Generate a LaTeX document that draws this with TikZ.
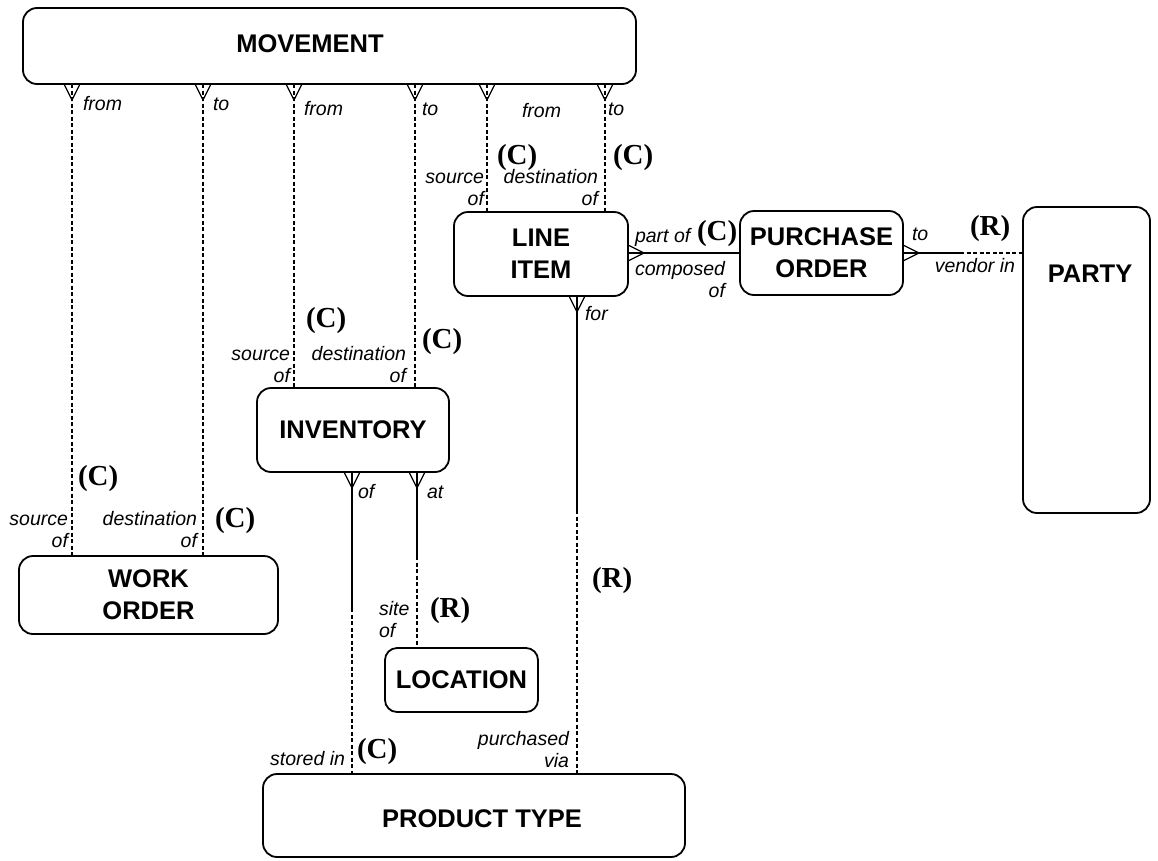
\documentclass[tikz,border=0pt]{standalone}
\usepackage{fontspec}
\setmainfont{Liberation Sans}
\newfontfamily\cardfont{Liberation Serif}

% crow's foot on the lower edge of an entity (opening upwards onto the box)
\newcommand\crowdown[1]{\draw[crow] (#1) ++(-8,0) -- ++(8,16) -- ++(8,-16);}
% crow's foot on the right edge of an entity
\newcommand\crowright[1]{\draw[crow] (#1) ++(0,-8) -- ++(16,8) -- ++(-16,8);}

\begin{document}
\begin{tikzpicture}[x=1pt,y=-1pt,
  ent/.style={draw,line width=1.8pt,rounded corners=14pt,inner sep=0pt,outer sep=0pt,
              align=center,font=\fontsize{25.5}{32}\selectfont\bfseries},
  entname/.style={inner sep=0pt,outer sep=0pt,font=\fontsize{25.5}{32}\selectfont\bfseries},
  lbl/.style={inner sep=0pt,outer sep=0pt,font=\fontsize{19.5}{22}\selectfont\itshape},
  card/.style={inner sep=0pt,outer sep=0pt,font=\fontsize{29}{29}\selectfont\cardfont\bfseries},
  rel/.style={line width=1.3pt},
  opt/.style={line width=1.3pt,dash pattern=on 4pt off 2.5pt},
  crow/.style={line width=1.3pt,line join=miter}]

\useasboundingbox (0,0) rectangle (1158,860);

% ---------- entities ----------
\node[ent,minimum width=613pt,minimum height=76pt] (mv) at (329.5,46) {};
\node[entname,anchor=base] (mvname) at (310,52) {MOVEMENT};
\node[ent,minimum width=174pt,minimum height=84pt] (li) at (541,254) {LINE\\ITEM};
\node[ent,minimum width=163pt,minimum height=84pt] (po) at (821.5,253) {PURCHASE\\ORDER};
\node[ent,minimum width=127pt,minimum height=306pt] (pa) at (1086.5,360) {};
\node[entname,anchor=base] (paname) at (1090,282) {PARTY};
\node[ent,minimum width=192pt,minimum height=84pt] (inv) at (353,430) {INVENTORY};
\node[ent,minimum width=259pt,minimum height=78pt] (wo) at (148.5,595) {WORK\\ORDER};
\node[ent,minimum width=153pt,minimum height=64pt,rounded corners=12pt] (lo) at (461.5,680) {LOCATION};
\node[ent,minimum width=422pt,minimum height=83pt] (pt) at (474,815.5) {};
\node[entname,anchor=base] (ptname) at (482,827) {PRODUCT TYPE};

% ---------- relationship columns / rows ----------
\coordinate (c1) at (72,0);
\coordinate (c2) at (203,0);
\coordinate (c3) at (294,0);
\coordinate (c4) at (415,0);
\coordinate (c5) at (487,0);
\coordinate (c6) at (605,0);
\coordinate (c7) at (577,0);
\coordinate (c8) at (352,0);
\coordinate (c9) at (417,0);
\coordinate (r1) at (0,253);
% points where a line changes from solid to dashed
\coordinate (s7) at (577,510);
\coordinate (s8) at (352,608);
\coordinate (s9) at (417,556);
\coordinate (s10) at (960,253);

% ---------- relationships ----------
\draw[opt] (mv.south -| c1) -- (wo.north -| c1);
\draw[opt] (mv.south -| c2) -- (wo.north -| c2);
\draw[opt] (mv.south -| c3) -- (inv.north -| c3);
\draw[opt] (mv.south -| c4) -- (inv.north -| c4);
\draw[opt] (mv.south -| c5) -- (li.north -| c5);
\draw[opt] (mv.south -| c6) -- (li.north -| c6);
\crowdown{mv.south -| c1}
\crowdown{mv.south -| c2}
\crowdown{mv.south -| c3}
\crowdown{mv.south -| c4}
\crowdown{mv.south -| c5}
\crowdown{mv.south -| c6}

\draw[rel] (li.south -| c7) -- (s7);
\draw[opt] (s7) -- (pt.north -| c7);
\crowdown{li.south -| c7}

\draw[rel] (inv.south -| c8) -- (s8);
\draw[opt] (s8) -- (pt.north -| c8);
\crowdown{inv.south -| c8}

\draw[rel] (inv.south -| c9) -- (s9);
\draw[opt] (s9) -- (lo.north -| c9);
\crowdown{inv.south -| c9}

\draw[rel] (li.east |- r1) -- (po.west |- r1);
\crowright{li.east |- r1}

\draw[rel] (po.east |- r1) -- (s10);
\draw[opt] (s10) -- (pa.west |- r1);
\crowright{po.east |- r1}

% ---------- role names (two-line names sit on the baseline of their last line) ----------
\node[lbl,anchor=base west] (t1) at (83,110) {from};
\node[lbl,anchor=base west] (t2) at (213,110) {to};
\node[lbl,anchor=base west] (t3) at (304,115) {from};
\node[lbl,anchor=base west] (t4) at (422,115) {to};
\node[lbl,anchor=base west] (t5) at (522,117) {from};
\node[lbl,anchor=base west] (t6) at (608,115) {to};

\node[lbl,anchor=base east,align=right] (b5) at (484,205) {source\\of};
\node[lbl,anchor=base east,align=right] (b6) at (598,205) {destination\\of};
\node[lbl,anchor=base east,align=right] (b3) at (290,382) {source\\of};
\node[lbl,anchor=base east,align=right] (b4) at (406,382) {destination\\of};
\node[lbl,anchor=base east,align=right] (b1) at (68,547) {source\\of};
\node[lbl,anchor=base east,align=right] (b2) at (197,547) {destination\\of};

\node[lbl,anchor=base west] (t7) at (585,320) {for};
\node[lbl,anchor=base east,align=right] (b7) at (569,767) {purchased\\via};
\node[lbl,anchor=base west] (t8) at (358,498) {of};
\node[lbl,anchor=base east] (b8) at (345,765) {stored in};
\node[lbl,anchor=base west] (t9) at (427,498) {at};
\node[lbl,anchor=base west,align=left] (b9) at (379,637) {site\\of};
\node[lbl,anchor=base west] (t10) at (635,242) {part of};
\node[lbl,anchor=base east,align=right] (b10) at (725,297) {composed\\of};
\node[lbl,anchor=base west] (t11) at (912,240) {to};
\node[lbl,anchor=base east] (b11) at (1015,272) {vendor in};

% ---------- cardinality markers ----------
\node[card,anchor=base west] (k1) at (78,485) {(C)};
\node[card,anchor=base west] (k2) at (215,527) {(C)};
\node[card,anchor=base west] (k3) at (306,327) {(C)};
\node[card,anchor=base west] (k4) at (422,348) {(C)};
\node[card,anchor=base west] (k5) at (497,164) {(C)};
\node[card,anchor=base west] (k6) at (613,164) {(C)};
\node[card,anchor=base west] (k7) at (592,587) {(R)};
\node[card,anchor=base west] (k8) at (357,758) {(C)};
\node[card,anchor=base west] (k9) at (430,617) {(R)};
\node[card,anchor=base west] (k10) at (697,240) {(C)};
\node[card,anchor=base west] (k11) at (970,235) {(R)};
\end{tikzpicture}
\end{document}
